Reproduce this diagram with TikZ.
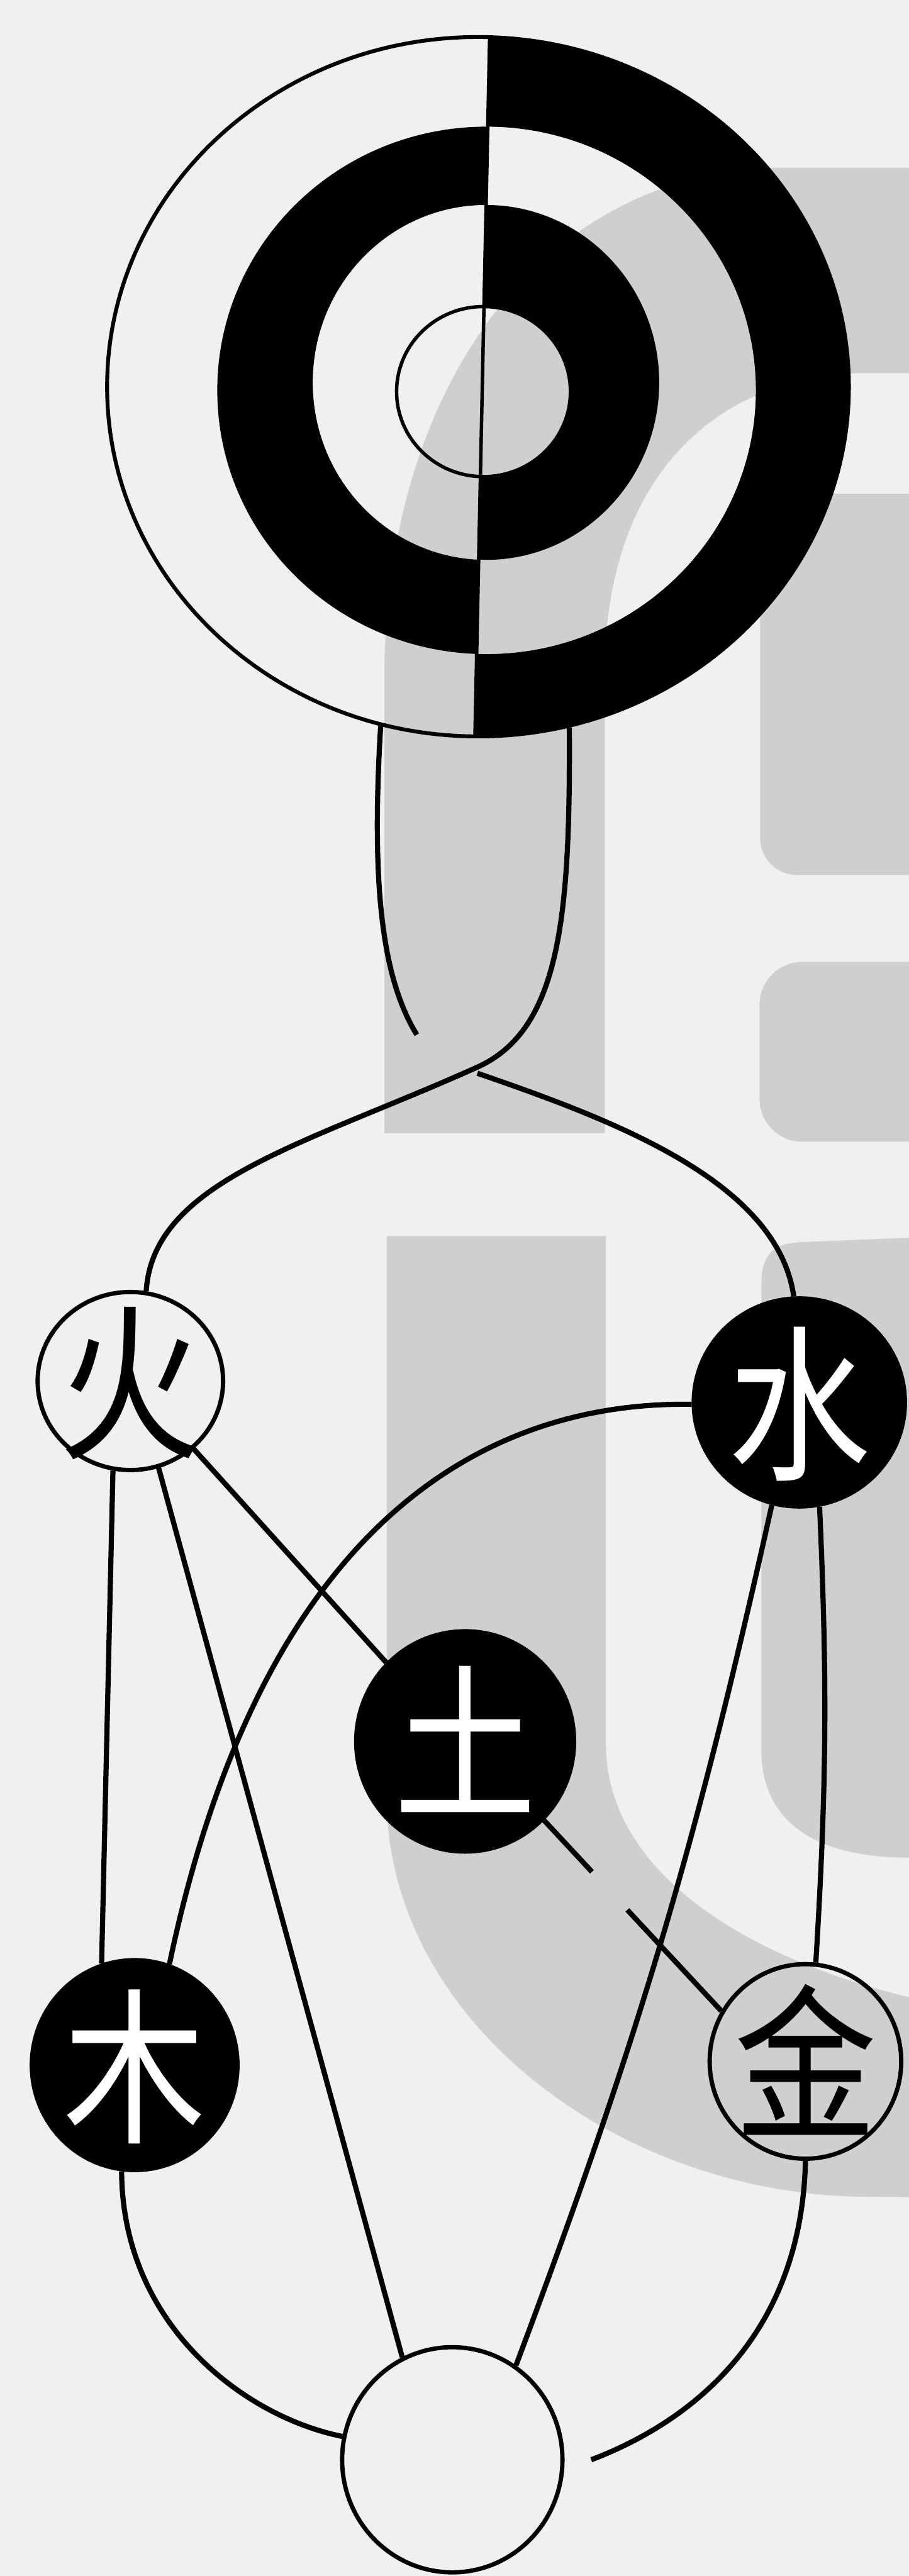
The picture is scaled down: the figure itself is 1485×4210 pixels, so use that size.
\documentclass[tikz,border=0pt]{standalone}
\usepackage{fontspec}
\newfontfamily\cjk{Noto Sans CJK SC}
\usetikzlibrary{shapes.geometric,calc}
\definecolor{paper}{gray}{0.94}
\definecolor{wm}{gray}{0.81}
\newcommand\el[1]{\makebox[0pt]{\raisebox{-.39em}[0pt][0pt]{\scalebox{.85}[1]{#1}}}}

\begin{document}
\begin{tikzpicture}[x=0.1mm, y=-0.1mm, line width=2.4pt,
  yin/.style={ellipse, draw, fill=black, text=white, line width=2pt, inner sep=0pt, font=\cjk\fontsize{78}{78}\selectfont},
  yang/.style={ellipse, draw, line width=2pt, inner sep=0pt, font=\cjk\fontsize{78}{78}\selectfont}]
\useasboundingbox (0,0) rectangle (1485,4210);
\clip (0,0) rectangle (1485,4210);
\fill[paper] (0,0) rectangle (1485,4210);
% watermark
\fill[wm] (628,1852) -- (628,1100) .. controls (630,640) and (880,280) .. (1275,274) -- (1600,274) -- (1600,610) -- (1400,610) .. controls (1150,620) and (988,800) .. (988,1100) -- (988,1852) -- cycle;
\fill[wm, rounded corners=6mm] (1600,807) -- (1242,807) -- (1242,1430) -- (1600,1430) -- cycle;
\fill[wm, rounded corners=7mm] (1600,1572) -- (1241,1572) -- (1241,1866) -- (1600,1866) -- cycle;
\fill[wm] (632,2020) -- (632,2950) .. controls (640,3300) and (1000,3580) .. (1400,3590) -- (1600,3592) -- (1600,3264) -- (1485,3264) .. controls (1220,3200) and (990,3060) .. (990,2850) -- (990,2020) -- cycle;
\fill[wm] (1600,2018) -- (1310,2030) .. controls (1262,2032) and (1244,2050) .. (1244,2100) -- (1244,2870) .. controls (1250,2990) and (1350,3036) .. (1485,3036) -- (1600,3036) -- cycle;
% taiji
\begin{scope}
\clip (801,0) -- (1600,0) -- (1600,1300) -- (774,1300) -- cycle;
\fill[even odd rule] (781,632) ellipse [x radius=60.6mm, y radius=57.15mm] (795,638) ellipse [x radius=44mm, y radius=43.1mm] (794,625) ellipse [x radius=28.3mm, y radius=29mm] (790,640) ellipse [x radius=14.2mm, y radius=13.9mm];
\end{scope}
\begin{scope}
\clip (0,0) -- (801,0) -- (774,1300) -- (0,1300) -- cycle;
\fill[even odd rule] (795,638) ellipse [x radius=44mm, y radius=43.1mm] (794,625) ellipse [x radius=28.3mm, y radius=29mm];
\end{scope}
\node[ellipse, draw, line width=1.8pt, inner sep=0pt, minimum width=121.2mm, minimum height=114.3mm] (top) at (781,632) {};
\draw[line width=1.6pt] (790,640) ellipse [x radius=14.2mm, y radius=13.9mm];
\draw[line width=1.6pt] (800,62) -- (776,1203);

\node[yang, minimum width=30.3mm, minimum height=29.1mm] (huo) at (213,2257) {\el{火}};
\node[yin, minimum width=34.5mm, minimum height=34mm] (shui) at (1306,2292) {\el{水}};
\node[yin, minimum width=35.6mm, minimum height=36mm] (tu) at (760,2846) {\el{土}};
\node[yin, minimum width=33.6mm, minimum height=34.3mm] (mu) at (220,3375) {\el{木}};
\node[yang, minimum width=31.3mm, minimum height=31.8mm] (jin) at (1316,3369) {\el{金}};
\node[yang, minimum width=36mm, minimum height=36.8mm] (low) at (739,4020) {};

\coordinate (g1) at (681,1691); \coordinate (g2) at (780,1754);
\draw (top.254) .. controls (606,1450) and (625,1600) .. (g1);
\draw (g2) .. controls (1000,1830) and (1270,1930) .. (shui.93);
\draw (top.-75) .. controls (932,1500) and (915,1683) .. (780,1744) .. controls (500,1870) and (250,1930) .. (huo.80);
\draw (huo.259) -- (mu.108);
\draw (huo.288) -- (low.116);
\draw (huo.-47) -- (tu.135);
\draw (shui.181) .. controls (800,2290) and (430,2480) .. (mu.71);
\draw (shui.255) to[bend left=4] (low.56);
\draw (shui.281) to[bend left=3] (jin.84);
\coordinate (t1) at ($(tu.-45)!.27!(jin.149)$); \coordinate (t2) at ($(tu.-45)!.47!(jin.149)$);
\draw (tu.-45) -- (t1); \draw (t2) -- (jin.149);
\draw (mu.263) .. controls (200,3800) and (400,3950) .. (low.168);
\coordinate (e1) at (966,4020);
\draw (jin.270) .. controls (1310,3800) and (1150,3950) .. (e1);
\end{tikzpicture}
\end{document}
